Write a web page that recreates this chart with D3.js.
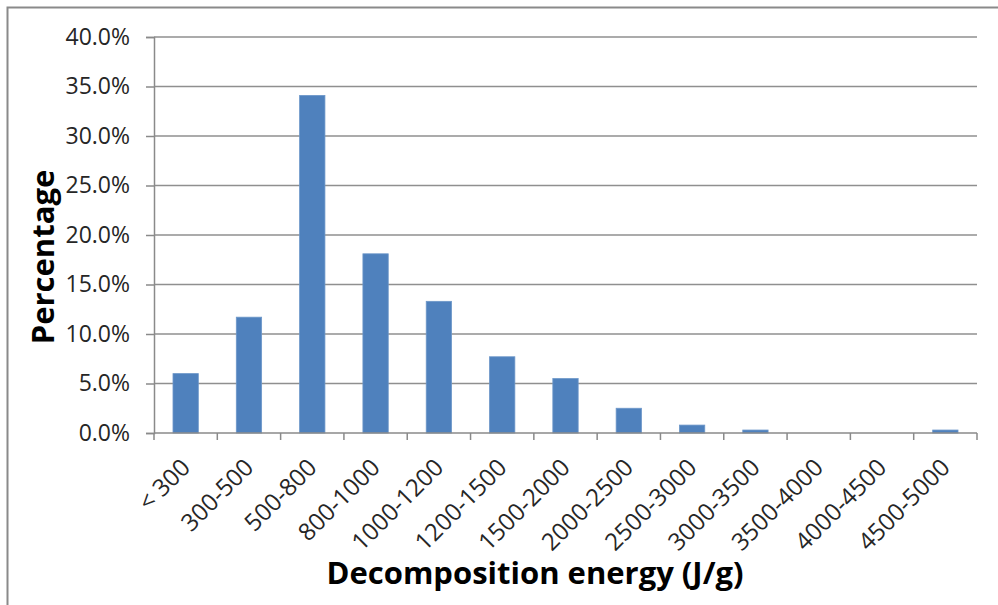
<!DOCTYPE html>
<html>
<head>
<meta charset="utf-8">
<script src="https://cdn.jsdelivr.net/npm/d3@7"></script>
<style>
  body { margin: 0; background: #fff; }
</style>
</head>
<body>
<div id="chart"></div>
<script>
const categories = ["< 300", "300-500", "500-800", "800-1000", "1000-1200", "1200-1500",
  "1500-2000", "2000-2500", "2500-3000", "3000-3500", "3500-4000", "4000-4500", "4500-5000"];
const percentages = [6.0, 11.7, 34.1, 18.1, 13.3, 7.7, 5.5, 2.5, 0.8, 0.3, 0, 0, 0.3];
const yTicks = [0, 5, 10, 15, 20, 25, 30, 35, 40];

const width = 998;
const height = 605;
const marginTop = 37;
const marginRight = 21;
const marginBottom = 172;
const marginLeft = 154;

const font = "'Open Sans', Lato, sans-serif";

const svg = d3.select("#chart")
  .append("svg")
  .attr("width", width)
  .attr("height", height)
  .attr("viewBox", [0, 0, width, height]);

// chart frame (only left and top edges visible in the picture)
svg.append("path")
  .attr("d", `M7.5,${height} V7.5 H${width}`)
  .attr("fill", "none")
  .attr("stroke", "#8a8a8a")
  .attr("stroke-width", 2);

const x = d3.scaleBand()
  .domain(categories)
  .range([marginLeft, width - marginRight])
  .paddingInner(0.6)
  .paddingOuter(0.3);

const y = d3.scaleLinear()
  .domain([0, 40])
  .range([height - marginBottom, marginTop]);

// gridlines
svg.append("g")
  .selectAll("line")
  .data(yTicks.slice(1))
  .join("line")
    .attr("x1", marginLeft)
    .attr("x2", width - marginRight)
    .attr("y1", d => y(d))
    .attr("y2", d => y(d))
    .attr("stroke", "#8f8f8f")
    .attr("stroke-width", 1.5);

// bars
svg.append("g")
  .selectAll("rect")
  .data(percentages.map((v, i) => ({ cat: categories[i], v })))
  .join("rect")
    .attr("x", d => x(d.cat))
    .attr("y", d => y(d.v))
    .attr("width", x.bandwidth())
    .attr("height", d => y(0) - y(d.v))
    .attr("fill", "#4f81bd")
    .attr("stroke", "#6d97c9")
    .attr("stroke-width", 0.8);

// y axis
svg.append("g")
  .attr("transform", `translate(${marginLeft},0)`)
  .call(d3.axisLeft(y).tickValues(yTicks).tickSize(8).tickPadding(16)
    .tickFormat(d => d3.format(".1f")(d) + "%"))
  .call(g => g.select(".domain").attr("stroke", "#8a8a8a").attr("stroke-width", 1.5))
  .call(g => g.selectAll(".tick line").attr("stroke", "#8a8a8a").attr("stroke-width", 1.5))
  .call(g => g.selectAll(".tick text")
    .attr("font-family", font)
    .attr("font-size", 23)
    .attr("fill", "#262626"));

// x axis: ticks at category boundaries
const step = x.step();
const boundaries = d3.range(categories.length + 1).map(i => marginLeft + i * step);
const xAxis = svg.append("g");
xAxis.append("line")
  .attr("x1", marginLeft)
  .attr("x2", width - marginRight)
  .attr("y1", y(0))
  .attr("y2", y(0))
  .attr("stroke", "#8a8a8a")
  .attr("stroke-width", 1.5);
xAxis.selectAll(".btick")
  .data(boundaries)
  .join("line")
    .attr("class", "btick")
    .attr("x1", d => d)
    .attr("x2", d => d)
    .attr("y1", y(0))
    .attr("y2", y(0) + 7)
    .attr("stroke", "#8a8a8a")
    .attr("stroke-width", 1.5);

xAxis.selectAll(".label")
  .data(categories)
  .join("text")
    .attr("class", "label")
    .attr("transform", d => `translate(${x(d) + x.bandwidth() / 2 + 6},${y(0) + 36}) rotate(-45)`)
    .attr("text-anchor", "end")
    .attr("font-family", font)
    .attr("font-size", 24)
    .attr("fill", "#262626")
    .text(d => d);

// axis titles
svg.append("text")
  .attr("x", 535)
  .attr("y", 584)
  .attr("text-anchor", "middle")
  .attr("font-family", font)
  .attr("font-weight", "bold")
  .attr("font-size", 31)
  .attr("fill", "#000")
  .text("Decomposition energy (J/g)");

svg.append("text")
  .attr("transform", "translate(54,257) rotate(-90)")
  .attr("text-anchor", "middle")
  .attr("font-family", font)
  .attr("font-weight", "bold")
  .attr("font-size", 31)
  .attr("fill", "#000")
  .text("Percentage");
</script>
</body>
</html>
